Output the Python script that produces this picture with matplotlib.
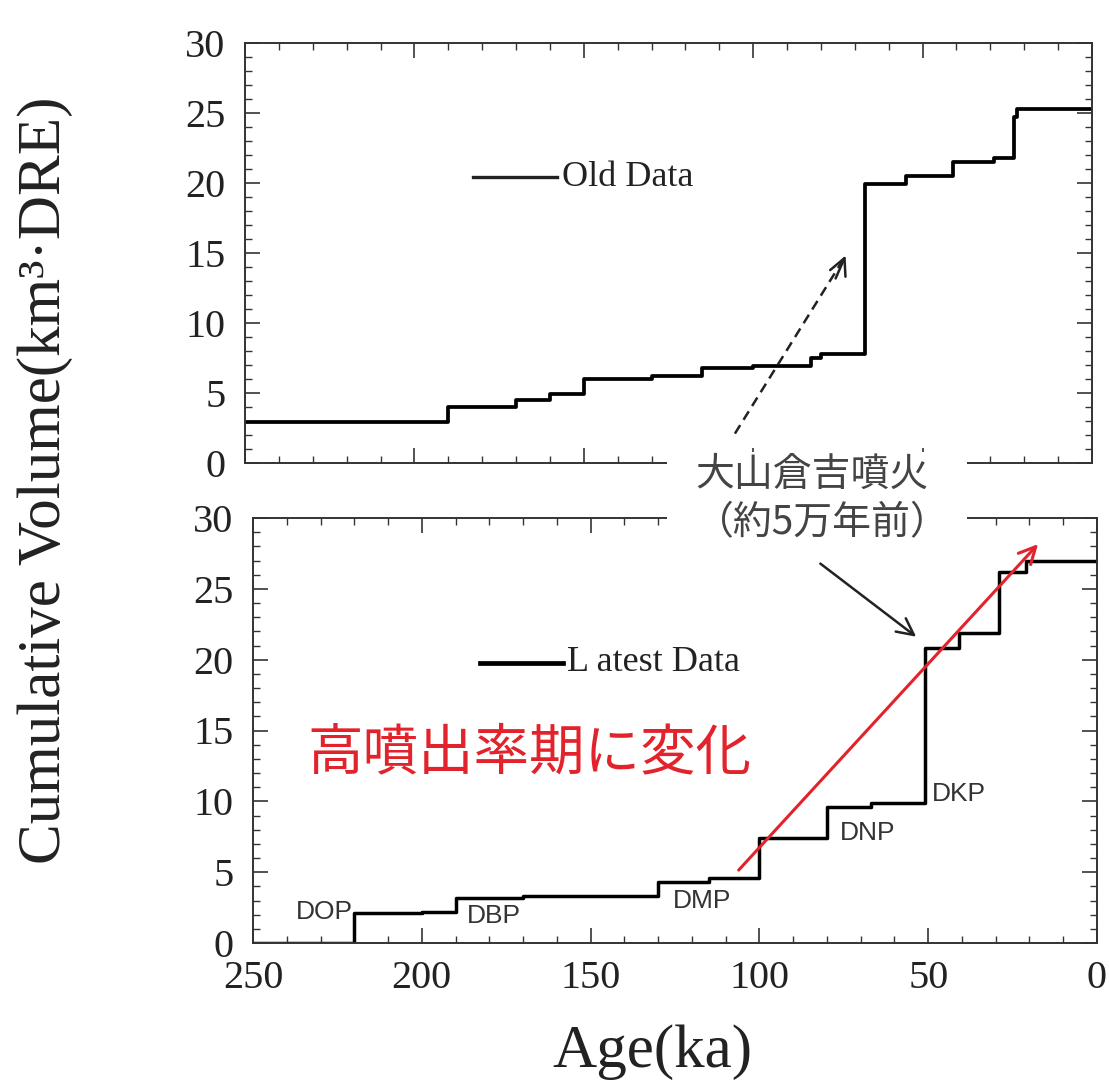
import matplotlib
matplotlib.use('Agg')
import matplotlib.pyplot as plt
from matplotlib.patches import Rectangle
from matplotlib.ticker import MultipleLocator

plt.rcParams['font.family'] = ['Liberation Serif', 'Noto Sans CJK JP', 'DejaVu Sans']

# old data: step starts (ka) and cumulative volume for each step
old_age = [250, 190, 170, 160, 150, 130, 115, 100, 83, 80, 67, 55, 41, 29, 23, 22, 0]
old_vol = [2.9, 4.0, 4.5, 4.9, 6.0, 6.2, 6.8, 6.9, 7.5, 7.8, 19.9, 20.5, 21.5, 21.8, 24.7, 25.3, 25.3]

# latest data
new_age = [250, 220, 200, 190, 170, 130, 115, 100, 80, 67, 51, 41, 29, 21, 0]
new_vol = [0, 2.1, 2.2, 3.2, 3.3, 4.3, 4.6, 7.4, 9.6, 9.9, 20.8, 21.9, 26.2, 27.0, 27.0]

# tephra labels: name, age, volume, alignment
tephra_names = ['DOP', 'DBP', 'DMP', 'DNP', 'DKP']
tephra_age = [220.5, 186.6, 125.6, 76.1, 48.9]
tephra_vol = [2.2, 1.9, 3.0, 7.8, 10.5]
tephra_ha = ['right', 'left', 'left', 'left', 'left']

yticks = [0, 5, 10, 15, 20, 25, 30]
xticks = [250, 200, 150, 100, 50, 0]

W, H = 1109, 1086
fig = plt.figure(figsize=(W / 100, H / 100), dpi=100)
ax1 = fig.add_axes([245 / W, 1 - 463 / H, 847 / W, 420 / H])
ax2 = fig.add_axes([253 / W, 1 - 943 / H, 844 / W, 425 / H])

for ax in (ax1, ax2):
    ax.set_xlim(250, 0)
    ax.set_ylim(0, 30)
    ax.set_xticks(xticks)
    ax.set_yticks(yticks)
    ax.xaxis.set_minor_locator(MultipleLocator(10))
    ax.yaxis.set_minor_locator(MultipleLocator(1))
    ax.tick_params(which='both', direction='in', top=True, right=True,
                   colors='#333333', labelcolor='#222222', labelsize=29)
    ax.tick_params(which='major', length=11, width=1.2)
    ax.tick_params(which='minor', length=5, width=1.0)
    ax.tick_params(axis='y', pad=14)
    ax.tick_params(axis='x', pad=12)
    for s in ax.spines.values():
        s.set_linewidth(1.4)
        s.set_color('#333333')

ax1.tick_params(labelbottom=False)

ax1.step(old_age, old_vol, where='post', color='black', lw=2.7)
ax2.step(new_age, new_vol, where='post', color='black', lw=2.5)

# in-plot legends
ax1.plot([182.7, 157.9], [20.4, 20.4], color='#222222', lw=2.4)
ax1.text(156.5, 20.4, 'Old Data', fontsize=26, va='center', ha='left', color='#222222')
ax2.plot([182.8, 158.2], [19.8, 19.8], color='black', lw=3.4)
ax2.text(157.0, 19.8, 'L atest Data', fontsize=26, va='center', ha='left', color='#222222')

for name, a, v, ha in zip(tephra_names, tephra_age, tephra_vol, tephra_ha):
    ax2.text(a, v, name, fontsize=19, family='Liberation Sans', color='#333333',
             ha=ha, va='center')

# red message and trend arrow
ax2.text(168, 13.4, '高噴出率期に変化', fontsize=40, color='#e3232c',
         family=['Noto Sans CJK JP'], ha='center', va='center')
ax2.annotate('', xy=(16.9, 28.3), xytext=(106.7, 5.0),
             arrowprops=dict(arrowstyle='->', color='#e3232c', lw=2.2, mutation_scale=30))

# arrow to DKP step
ax2.annotate('', xy=(52.9, 21.5), xytext=(82.6, 26.9),
             arrowprops=dict(arrowstyle='->', color='#222222', lw=1.8, mutation_scale=30))

# dashed arrow in old data panel
ax1.plot([105.4, 73.5], [2.1, 14.5], color='#222222', lw=1.8, ls=(0, (4, 2.5)))
ax1.annotate('', xy=(72.4, 15.0), xytext=(76.0, 13.0),
             arrowprops=dict(arrowstyle='->', color='#222222', lw=1.8, mutation_scale=30))

# white box with the eruption note between the panels
fig.patches.append(Rectangle((667 / W, 1 - 548 / H), 300 / W, 96 / H,
                             transform=fig.transFigure, facecolor='white',
                             edgecolor='none', zorder=5))
fig.text(695 / W, 1 - 475 / H, '大山倉吉噴火', fontsize=28, color='#444444',
         family=['Noto Sans CJK JP'], ha='left', va='center', zorder=6)
fig.text(695 / W, 1 - 523 / H, '（約5万年前）', fontsize=28, color='#444444',
         family=['Noto Sans CJK JP'], ha='left', va='center', zorder=6)

fig.text(45 / W, 1 - 480 / H, 'Cumulative Volume(km³·DRE)', fontsize=44,
         rotation=90, ha='center', va='center', color='#222222')
fig.text(652 / W, 1 - 1052 / H, 'Age(ka)', fontsize=44, ha='center', va='center',
         color='#222222')

fig.savefig('out.png', dpi=100)
